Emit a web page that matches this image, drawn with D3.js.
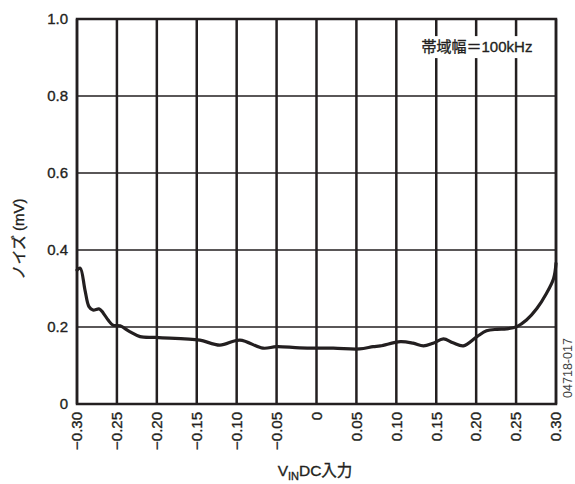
<!DOCTYPE html>
<html>
<head>
<meta charset="utf-8">
<script src="https://cdn.jsdelivr.net/npm/d3@7"></script>
<style>
  body { margin: 0; background: #fff; }
  text { font-family: "Liberation Sans", Arial, "Noto Sans CJK JP", sans-serif; fill: #231f20; }
  .heavy { stroke: #231f20; stroke-width: 0.35px; }
</style>
</head>
<body>
<svg id="chart" width="575" height="484"></svg>
<script>
// V_IN DC input (V) and noise (mV)
const vin = [-0.300, -0.296, -0.290, -0.285, -0.280, -0.272, -0.267, -0.261, -0.255, -0.246,
             -0.234, -0.221, -0.202, -0.184, -0.165, -0.146, -0.121, -0.096, -0.067, -0.050,
             -0.021, 0.021, 0.054, 0.071, 0.080, 0.105, 0.121, 0.134, 0.146, 0.159,
             0.171, 0.184, 0.201, 0.213, 0.226, 0.238, 0.251, 0.263, 0.276, 0.288,
             0.297, 0.300];
const noise = [0.348, 0.353, 0.296, 0.253, 0.244, 0.247, 0.236, 0.218, 0.205, 0.203,
               0.188, 0.175, 0.173, 0.171, 0.169, 0.166, 0.153, 0.166, 0.145, 0.149,
               0.146, 0.145, 0.143, 0.149, 0.151, 0.162, 0.158, 0.151, 0.158, 0.169,
               0.159, 0.151, 0.175, 0.190, 0.194, 0.195, 0.201, 0.218, 0.248, 0.287,
               0.326, 0.365];

const xTicks = [-0.30, -0.25, -0.20, -0.15, -0.10, -0.05, 0, 0.05, 0.10, 0.15, 0.20, 0.25, 0.30];
const xTickLabels = ["\u22120.30", "\u22120.25", "\u22120.20", "\u22120.15", "\u22120.10", "\u22120.05",
                     "0", "0.05", "0.10", "0.15", "0.20", "0.25", "0.30"];
const yTicks = [0, 0.2, 0.4, 0.6, 0.8, 1.0];
const yTickLabels = ["0", "0.2", "0.4", "0.6", "0.8", "1.0"];

const margin = { top: 19, left: 77, right: 19, bottom: 80 };
const W = 575, H = 484;
const pw = W - margin.left - margin.right;   // 479
const ph = H - margin.top - margin.bottom;   // 385

const svg = d3.select("#chart");
const g = svg.append("g").attr("transform", `translate(${margin.left},${margin.top})`);

const x = d3.scaleLinear().domain([-0.30, 0.30]).range([0, pw]);
const y = d3.scaleLinear().domain([0, 1.0]).range([ph, 0]);

const ink = "#231f20";

// horizontal grid (thinner)
g.selectAll(".hgrid").data(yTicks).enter().append("line")
  .attr("x1", 0).attr("x2", pw)
  .attr("y1", d => y(d)).attr("y2", d => y(d))
  .attr("stroke", ink).attr("stroke-width", 1.5);

// vertical grid (heavier)
g.selectAll(".vgrid").data(xTicks).enter().append("line")
  .attr("x1", d => x(d)).attr("x2", d => x(d))
  .attr("y1", 0).attr("y2", ph)
  .attr("stroke", ink).attr("stroke-width", 2.5);

// frame
g.append("rect").attr("x", 0).attr("y", 0).attr("width", pw).attr("height", ph)
  .attr("fill", "none").attr("stroke", ink).attr("stroke-width", 2.5);

// annotation with white backing
const note = g.append("g").attr("transform", `translate(${x(0.201)},${y(0.927)})`);
note.append("rect").attr("x", -61).attr("y", -11).attr("width", 122).attr("height", 22).attr("fill", "#fff");
note.append("text").attr("class", "heavy").attr("text-anchor", "middle").attr("dy", "0.35em")
  .attr("font-size", 15).text("帯域幅＝100kHz");

// curve
const pts = vin.map((v, i) => [v, noise[i]]);
g.append("path").datum(pts)
  .attr("fill", "none").attr("stroke", ink).attr("stroke-width", 3.2)
  .attr("stroke-linejoin", "round").attr("stroke-linecap", "round")
  .attr("d", d3.line().x(d => x(d[0])).y(d => y(d[1])).curve(d3.curveCatmullRom.alpha(0.5)));

// y tick labels
g.selectAll(".ylab").data(yTicks).enter().append("text")
  .attr("class", "heavy")
  .attr("x", -9).attr("y", d => y(d)).attr("dy", "0.35em")
  .attr("text-anchor", "end").attr("font-size", 15)
  .text((d, i) => yTickLabels[i]);

// x tick labels (rotated)
g.selectAll(".xlab").data(xTicks).enter().append("text")
  .attr("class", "heavy")
  .attr("transform", d => `translate(${x(d)},${ph + 8}) rotate(-90)`)
  .attr("text-anchor", "end").attr("dy", "0.35em").attr("font-size", 15)
  .text((d, i) => xTickLabels[i]);

// x axis title
const xt = svg.append("text").attr("class", "heavy").attr("x", 315).attr("y", 476)
  .attr("text-anchor", "middle").attr("font-size", 15.5);
xt.append("tspan").text("V");
xt.append("tspan").attr("font-size", 11).attr("dy", 4).text("IN");
xt.append("tspan").attr("dy", -4).text("DC入力");

// y axis title
svg.append("text").attr("class", "heavy")
  .attr("transform", `translate(19,239) rotate(-90)`)
  .attr("text-anchor", "middle").attr("dy", "0.35em").attr("font-size", 15)
  .text("ノイズ (mV)");

// figure code
svg.append("text").attr("transform", `translate(568,368) rotate(-90)`)
  .attr("text-anchor", "middle").attr("dy", "0.35em").attr("font-size", 12.5)
  .style("fill", "#444").text("04718-017");
</script>
</body>
</html>
